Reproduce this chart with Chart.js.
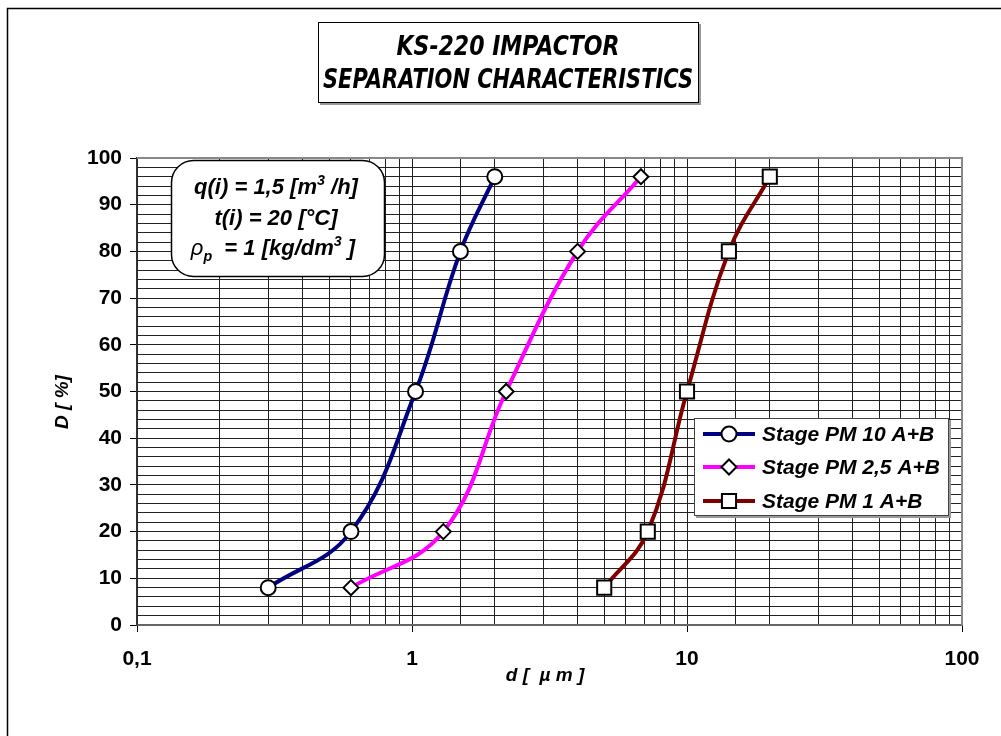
<!DOCTYPE html>
<html>
<head>
<meta charset="utf-8">
<style>
  html, body { margin: 0; padding: 0; background: #fff; }
  canvas { display: block; }
</style>
<script src="https://cdn.jsdelivr.net/npm/chart.js@4.4.0/dist/chart.umd.min.js"></script>
</head>
<body>
<canvas id="grafico" width="1001" height="736"></canvas>
<script>
// valores
const stageNames = ['Stage PM 10 A+B', 'Stage PM 2,5 A+B', 'Stage PM 1 A+B']
const pm10D = [0.3, 0.6, 1.03, 1.5, 2.0]
const pm10Y = [8, 20, 50, 80, 96]
const pm25D = [0.6, 1.3, 2.2, 4.0, 6.8]
const pm25Y = [8, 20, 50, 80, 96]
const pm1D = [5.0, 7.2, 10.0, 14.2, 20.0]
const pm1Y = [8, 20, 50, 80, 96]
const xTickLabels = { 0.1: '0,1', 1: '1', 10: '10', 100: '100' }
const titleLines = ['KS-220 IMPACTOR', 'SEPARATION CHARACTERISTICS']

const cores = ['#000080', '#ff00ff', '#800000']
const simbolos = ['circle', 'rectRot', 'rect']
const raios = [7.5, 7.5, 10]

const FONTE = '"Liberation Sans", Arial, sans-serif'

function pontos(xs, ys) {
    return xs.map((x, i) => ({ x: x, y: ys[i] }))
}

function isDecada(v) {
    const l = Math.log10(v)
    return Math.abs(l - Math.round(l)) < 1e-9
}

// desenha o simbolo do marcador
function marcador(ctx, tipo, x, y, r) {
    ctx.save()
    ctx.fillStyle = '#fff'
    ctx.strokeStyle = '#000'
    ctx.lineWidth = 2
    ctx.beginPath()
    if (tipo === 'circle') {
        ctx.arc(x, y, r, 0, Math.PI * 2)
    } else if (tipo === 'rectRot') {
        ctx.moveTo(x - r, y); ctx.lineTo(x, y - r); ctx.lineTo(x + r, y); ctx.lineTo(x, y + r); ctx.closePath()
    } else {
        const s = r * Math.SQRT1_2
        ctx.rect(x - s, y - s, 2 * s, 2 * s)
    }
    ctx.fill()
    ctx.stroke()
    ctx.restore()
}

// texto com sobrescrito/subscrito, centrado
function textoMisto(ctx, partes, cx, y, tam) {
    let total = 0
    partes.forEach(p => {
        ctx.font = (p.fonte || 'italic bold') + ' ' + (p.sup || p.sub ? tam * 0.65 : tam) + 'px ' + FONTE
        p.w = ctx.measureText(p.t).width
        total += p.w
    })
    let x = cx - total / 2
    partes.forEach(p => {
        ctx.font = (p.fonte || 'italic bold') + ' ' + (p.sup || p.sub ? tam * 0.65 : tam) + 'px ' + FONTE
        let dy = p.sup ? -tam * 0.4 : (p.sub ? tam * 0.25 : 0)
        ctx.fillText(p.t, x, y + dy)
        x += p.w
    })
}

const extras = {
    id: 'extras',
    beforeDraw(chart) {
        const ctx = chart.ctx
        ctx.save()
        ctx.fillStyle = '#fff'
        ctx.fillRect(0, 0, chart.width, chart.height)
        ctx.restore()
    },
    afterDraw(chart) {
        const ctx = chart.ctx
        const a = chart.chartArea
        ctx.save()

        // moldura externa
        ctx.strokeStyle = '#000'
        ctx.lineWidth = 1.5
        ctx.beginPath()
        ctx.moveTo(7.5, 736); ctx.lineTo(7.5, 8.5); ctx.lineTo(1001, 8.5)
        ctx.stroke()

        // borda superior e direita da area
        ctx.strokeStyle = '#888'
        ctx.lineWidth = 2
        ctx.beginPath()
        ctx.moveTo(a.left, a.top); ctx.lineTo(a.right, a.top); ctx.lineTo(a.right, a.bottom)
        ctx.stroke()

        // caixa do titulo
        ctx.fillStyle = '#999'
        ctx.fillRect(320, 24, 381, 81)
        ctx.fillStyle = '#fff'
        ctx.fillRect(318, 22, 381, 81)
        ctx.strokeStyle = '#000'
        ctx.lineWidth = 1
        ctx.strokeRect(318.5, 22.5, 380, 80)
        ctx.fillStyle = '#000'
        ctx.textAlign = 'center'
        ctx.textBaseline = 'alphabetic'
        const larguras = [223, 370]
        const bases = [55, 88]
        titleLines.forEach((t, i) => {
            ctx.font = 'italic bold 26px "DejaVu Sans", sans-serif'
            const w = ctx.measureText(t).width
            ctx.save()
            ctx.translate(508, bases[i])
            ctx.scale(larguras[i] / w, 1)
            ctx.fillText(t, 0, 0)
            ctx.restore()
        })

        // caixa de condicoes
        ctx.beginPath()
        ctx.roundRect(171.5, 160.5, 213, 116, 22)
        ctx.fillStyle = '#fff'
        ctx.fill()
        ctx.strokeStyle = '#000'
        ctx.lineWidth = 1.5
        ctx.stroke()
        ctx.fillStyle = '#000'
        ctx.textAlign = 'left'
        ctx.textBaseline = 'alphabetic'
        textoMisto(ctx, [{ t: 'q(i) = 1,5 [m' }, { t: '3', sup: true }, { t: ' /h]' }], 276, 194, 22)
        textoMisto(ctx, [{ t: 't(i) = 20 [°C]' }], 276, 225, 22)
        textoMisto(ctx, [{ t: 'ρ', fonte: 'italic' }, { t: 'p', sub: true }, { t: '  = 1 [kg/dm' }, { t: '3', sup: true }, { t: ' ]' }], 273, 255, 22)

        // legenda
        ctx.fillStyle = '#999'
        ctx.fillRect(696, 420, 255, 98)
        ctx.fillStyle = '#fff'
        ctx.fillRect(694, 418, 255, 98)
        ctx.strokeStyle = '#444'
        ctx.lineWidth = 1
        ctx.strokeRect(694.5, 418.5, 254, 97)
        const ys = [434, 467, 501]
        chart.data.datasets.forEach((ds, i) => {
            ctx.strokeStyle = ds.borderColor
            ctx.lineWidth = 4
            ctx.beginPath()
            ctx.moveTo(703, ys[i]); ctx.lineTo(755, ys[i])
            ctx.stroke()
            marcador(ctx, ds.pointStyle, 729, ys[i], ds.pointRadius)
            ctx.fillStyle = '#000'
            ctx.font = 'italic bold 21px ' + FONTE
            ctx.textAlign = 'left'
            ctx.textBaseline = 'middle'
            ctx.fillText(ds.label, 762, ys[i] + 1)
        })

        // titulos dos eixos
        ctx.fillStyle = '#000'
        ctx.font = 'italic bold 19px ' + FONTE
        ctx.textAlign = 'center'
        ctx.textBaseline = 'middle'
        ctx.fillText('d [  µ m ]', 545, 676)
        ctx.save()
        ctx.translate(63, 402)
        ctx.rotate(-Math.PI / 2)
        ctx.fillText('D [ %]', 0, 0)
        ctx.restore()

        ctx.restore()
    }
}

const series = [pontos(pm10D, pm10Y), pontos(pm25D, pm25Y), pontos(pm1D, pm1Y)]

const ctx = document.getElementById('grafico').getContext('2d')

const grafico = new Chart(ctx, {
    type: 'line',
    data: {
        datasets: series.map((d, i) => ({
            label: stageNames[i],
            data: d,
            borderColor: cores[i],
            borderWidth: 4,
            tension: 0.4,
            fill: false,
            pointStyle: simbolos[i],
            pointRadius: raios[i],
            pointHoverRadius: raios[i],
            pointBackgroundColor: '#fff',
            pointBorderColor: '#000',
            pointBorderWidth: 2
        }))
    },
    options: {
        responsive: false,
        animation: false,
        devicePixelRatio: 1,
        layout: { padding: { left: 0, top: 158, right: 39, bottom: 0 } },
        plugins: {
            legend: { display: false },
            title: { display: false },
            tooltip: { enabled: false }
        },
        scales: {
            x: {
                type: 'logarithmic',
                min: 0.1,
                max: 100,
                afterFit: s => { s.height = 111 },
                grid: {
                    color: '#222',
                    lineWidth: 1,
                    tickLength: 7,
                    tickColor: c => isDecada(c.tick.value) ? '#000' : 'rgba(0,0,0,0)'
                },
                border: { color: '#666', width: 2 },
                ticks: {
                    autoSkip: false,
                    maxRotation: 0,
                    padding: 15,
                    color: '#000',
                    font: { family: FONTE, size: 21, weight: 'bold' },
                    callback: v => isDecada(v) ? (xTickLabels[v] !== undefined ? xTickLabels[v] : String(v)) : ''
                }
            },
            y: {
                type: 'linear',
                min: 0,
                max: 100,
                afterFit: s => { s.width = 137 },
                grid: {
                    color: '#222',
                    lineWidth: 1,
                    tickLength: 7,
                    tickColor: c => c.tick.value % 10 === 0 ? '#000' : 'rgba(0,0,0,0)'
                },
                border: { color: '#333', width: 1.5 },
                ticks: {
                    stepSize: 2,
                    autoSkip: false,
                    padding: 8,
                    color: '#000',
                    font: { family: FONTE, size: 21, weight: 'bold' },
                    callback: v => v % 10 === 0 ? v : ''
                }
            }
        }
    },
    plugins: [extras]
})
</script>
</body>
</html>
